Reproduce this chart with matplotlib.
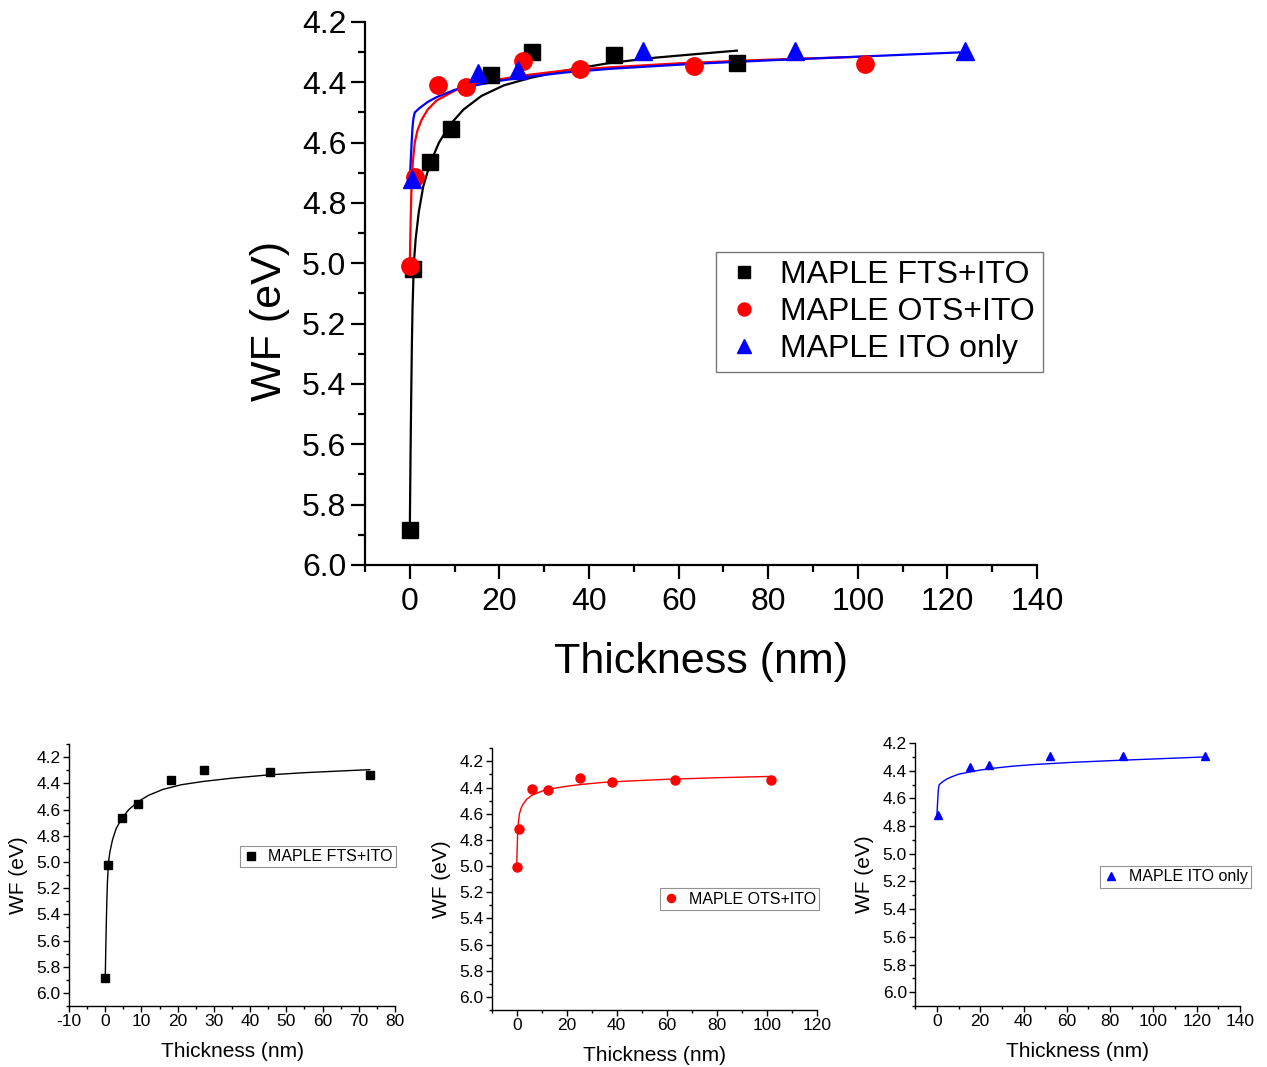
"""
Work function vs. MAPLE film thickness for the three substrate treatments:
one combined panel on top, one small panel per series underneath.
"""

import matplotlib
matplotlib.use("Agg")
import matplotlib.pyplot as plt
from matplotlib.ticker import MultipleLocator, FormatStrFormatter

plt.rcParams["font.family"] = ["Liberation Sans", "DejaVu Sans"]
plt.rcParams["axes.unicode_minus"] = False

# measured points: thickness (nm), work function (eV)
fts_x = [0.0, 0.8, 4.6, 9.1, 18.2, 27.3, 45.6, 73.0]
fts_wf = [5.885, 5.02, 4.665, 4.555, 4.375, 4.30, 4.31, 4.335]

ots_x = [0.0, 1.1, 6.3, 12.6, 25.3, 38.0, 63.4, 101.6]
ots_wf = [5.01, 4.715, 4.41, 4.415, 4.33, 4.355, 4.345, 4.34]

ito_x = [0.5, 15.2, 24.2, 52.1, 86.0, 124.0]
ito_wf = [4.72, 4.37, 4.36, 4.295, 4.295, 4.295]

# fitted curves
fts_fit_x = [0.0, 0.15, 0.3, 0.45, 0.6, 0.9, 1.3, 2.0, 3.0, 4.5, 6.5, 9.0,
             12.0, 16.0, 21.0, 27.0, 35.0, 45.0, 55.0, 65.0, 73.0]
fts_fit_wf = [5.88, 5.65, 5.45, 5.28, 5.15, 5.00, 4.92, 4.83, 4.745, 4.67,
              4.60, 4.54, 4.49, 4.445, 4.41, 4.385, 4.36, 4.335, 4.318,
              4.305, 4.295]

ots_fit_x = [0.0, 0.1, 0.2, 0.4, 0.7, 1.1, 1.7, 2.6, 4.0, 6.0, 8.5, 11.0,
             15.0, 20.0, 26.0, 35.0, 45.0, 60.0, 80.0, 101.6]
ots_fit_wf = [5.01, 4.92, 4.85, 4.73, 4.66, 4.60, 4.56, 4.525, 4.49, 4.46,
              4.44, 4.42, 4.405, 4.39, 4.376, 4.36, 4.35, 4.337, 4.325,
              4.315]

ito_fit_x = [0.0, 0.2, 0.4, 0.6, 0.8, 1.1, 2.2, 4.0, 6.0, 10.0, 15.0, 20.0,
             26.0, 35.0, 45.0, 63.0, 82.0, 100.0, 124.0]
ito_fit_wf = [4.72, 4.66, 4.60, 4.55, 4.52, 4.50, 4.485, 4.465, 4.449, 4.425,
              4.409, 4.395, 4.382, 4.367, 4.355, 4.339, 4.326, 4.315, 4.30]

labels = ["MAPLE FTS+ITO", "MAPLE OTS+ITO", "MAPLE ITO only"]
colors = ["black", "#ff0000", "#0000ff"]
markers = ["s", "o", "^"]

series = [
    (fts_x, fts_wf, fts_fit_x, fts_fit_wf),
    (ots_x, ots_wf, ots_fit_x, ots_fit_wf),
    (ito_x, ito_wf, ito_fit_x, ito_fit_wf),
]


def style_axes(ax, xmin, xmax, xmaj, ymin, ymax, size, major, minor, width):
    ax.set_xlim(xmin, xmax)
    ax.set_ylim(ymax, ymin)
    ax.xaxis.set_major_locator(MultipleLocator(xmaj))
    ax.xaxis.set_minor_locator(MultipleLocator(xmaj / 2))
    ax.yaxis.set_major_locator(MultipleLocator(0.2))
    ax.yaxis.set_minor_locator(MultipleLocator(0.1))
    ax.yaxis.set_major_formatter(FormatStrFormatter("%.1f"))
    for s in ("top", "right"):
        ax.spines[s].set_visible(False)
    for s in ("left", "bottom"):
        ax.spines[s].set_linewidth(width)
    ax.tick_params(which="major", direction="out", length=major, width=width,
                   labelsize=size)
    ax.tick_params(which="minor", direction="out", length=minor, width=width)


fig = plt.figure(figsize=(12.67, 10.67), dpi=100)
fig.patch.set_facecolor("white")

# combined panel
ax = fig.add_axes([0.2881, 0.4705, 0.5304, 0.5089])
for (x, y, fx, fy), lab, c, m in zip(series, labels, colors, markers):
    ax.plot(fx, fy, "-", color=c, lw=1.6, zorder=2)
    ax.plot(x, y, ls="none", marker=m, color=c, ms=12.5 if m != "s" else 11,
            label=lab, zorder=3)
style_axes(ax, -10, 140, 20, 4.2, 6.0, 23, 10, 5, 1.6)
ax.tick_params(axis="x", pad=6)
ax.set_xlabel("Thickness (nm)", fontsize=31)
ax.set_ylabel("WF (eV)", fontsize=31)
ax.xaxis.set_label_coords(0.5, -0.142)
ax.yaxis.set_label_coords(-0.112, 0.45)
leg = ax.legend(loc="upper right", bbox_to_anchor=(1.009, 0.576), fontsize=23,
                frameon=True, fancybox=False, edgecolor="#555555",
                handlelength=1.2, handletextpad=0.55, borderpad=0.25,
                labelspacing=0.22, markerscale=0.75, borderaxespad=0)
leg.get_frame().set_linewidth(1.0)

# one small panel per series
small = [
    ([0.0545, 0.0571, 0.2573, 0.2455], -10, 80, 10, 4.1, 6.1, (1.003, 0.611)),
    ([0.3881, 0.0534, 0.2565, 0.2453], -10, 120, 20, 4.1, 6.1, (1.008, 0.465)),
    ([0.7224, 0.0571, 0.2563, 0.2465], -10, 140, 20, 4.2, 6.1, (1.033, 0.532)),
]
for (x, y, fx, fy), lab, c, m, (rect, x0, x1, xm, y0, y1, anchor) in zip(
        series, labels, colors, markers, small):
    sa = fig.add_axes(rect)
    sa.plot(fx, fy, "-", color=c, lw=1.0, zorder=2)
    sa.plot(x, y, ls="none", marker=m, color=c, ms=6 if m != "o" else 6.5,
            label=lab, zorder=3)
    style_axes(sa, x0, x1, xm, y0, y1, 12.5, 4, 2.5, 1.0)
    sa.tick_params(pad=2)
    sa.set_xlabel("Thickness (nm)", fontsize=15, labelpad=9)
    sa.set_ylabel("WF (eV)", fontsize=15, labelpad=6)
    lg = sa.legend(loc="upper right", bbox_to_anchor=anchor, fontsize=11.5,
                   frameon=True, fancybox=False, edgecolor="#777777",
                   handlelength=1.0, handletextpad=0.6, borderpad=0.2,
                   markerscale=0.9, borderaxespad=0)
    lg.get_frame().set_linewidth(0.8)

fig.savefig("out.png", dpi=100, facecolor="white")
